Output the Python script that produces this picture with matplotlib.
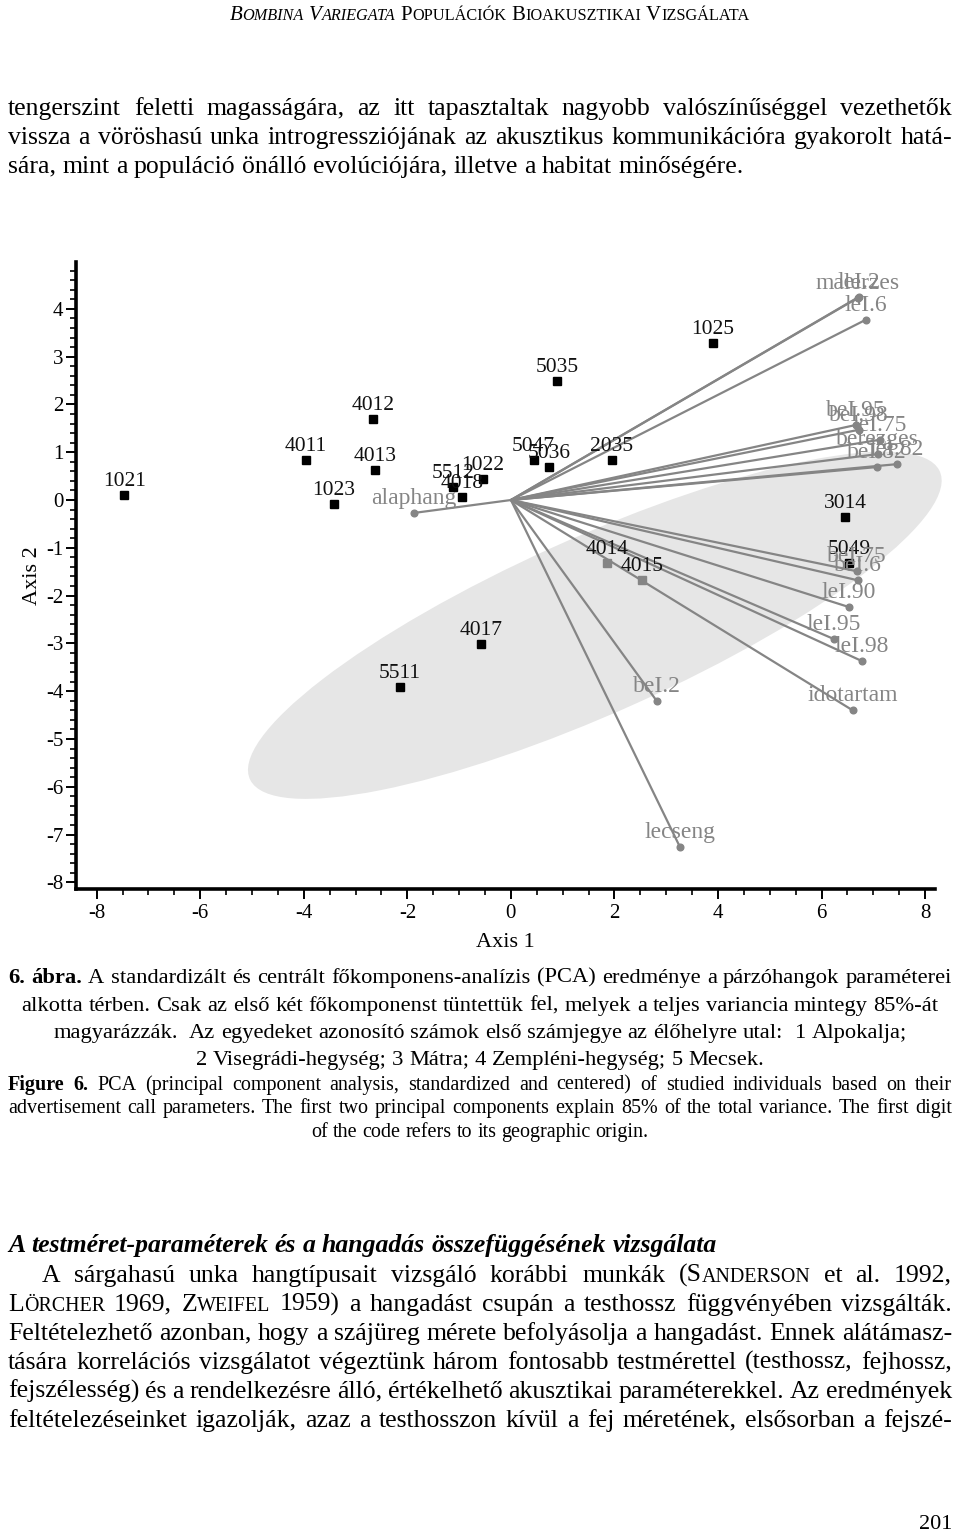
"""PCA biplot page (Bombina variegata bioacoustics) -- redraw of a scanned page."""

import matplotlib

matplotlib.use("Agg")
import matplotlib.pyplot as plt
from matplotlib.patches import Ellipse
from matplotlib.ticker import MultipleLocator
from matplotlib.transforms import Affine2D

plt.rcParams["axes.unicode_minus"] = False

W, H = 960, 1539
SERIF = "Liberation Serif"
GREY = "#858585"

# individuals (PCA scores)
ind_labels = ["1021", "4011", "4012", "4013", "1023", "5512", "1022", "4018",
              "5047", "5036", "2035", "5035", "1025", "3014", "5049", "4014",
              "4015", "4017", "5511"]
ind_x = [-7.47, -3.96, -2.66, -2.63, -3.42, -1.12, -0.54, -0.95,
         0.44, 0.73, 1.95, 0.89, 3.90, 6.45, 6.53, 1.85,
         2.53, -0.58, -2.14]
ind_y = [0.10, 0.84, 1.70, 0.63, -0.08, 0.27, 0.44, 0.06,
         0.84, 0.69, 0.84, 2.49, 3.29, -0.36, -1.32, -1.32,
         -1.68, -3.02, -3.92]
ind_grey = ["4014", "4015"]

# variables (loadings)
var_labels = ["alaphang", "malerzes", "leI.2", "leI.6", "beI.95", "beI.98",
              "leI.75", "berezges", "beI.82", "leI.82", "beI.75", "beI.6",
              "leI.90", "leI.95", "leI.98", "idotartam", "beI.2", "lecseng"]
var_x = [-1.87, 6.70, 6.72, 6.85, 6.66, 6.72,
         7.12, 7.08, 7.07, 7.45, 6.68, 6.70,
         6.53, 6.24, 6.78, 6.60, 2.82, 3.26]
var_y = [-0.27, 4.23, 4.25, 3.77, 1.57, 1.47,
         1.26, 0.96, 0.69, 0.75, -1.49, -1.68,
         -2.24, -2.91, -3.37, -4.40, -4.21, -7.25]

# confidence ellipse
ell_center = (1.62, -2.62)
ell_width = 14.8
ell_height = 3.64
ell_angle = 26

header = "_B|OMBINA _V|ARIEGATA P|OPULÁCIÓK B|IOAKUSZTIKAI V|IZSGÁLATA"
para1 = [
    "tengerszint feletti magasságára, az itt tapasztaltak nagyobb valószínűséggel vezethetők",
    "vissza a vöröshasú unka introgressziójának az akusztikus kommunikációra gyakorolt hatá-",
    "sára, mint a populáció önálló evolúciójára, illetve a habitat minőségére.",
]
caption_hu = [
    "*6. *ábra. A standardizált és centrált főkomponens-analízis (PCA) eredménye a párzóhangok paraméterei",
    "alkotta térben. Csak az első két főkomponenst tüntettük fel, melyek a teljes variancia mintegy 85%-át",
    "magyarázzák.  Az egyedeket azonosító számok első számjegye az élőhelyre utal:  1 Alpokalja;",
    "2 Visegrádi-hegység; 3 Mátra; 4 Zempléni-hegység; 5 Mecsek.",
]
caption_en = [
    "*Figure *6. PCA (principal component analysis, standardized and centered) of studied individuals based on their",
    "advertisement call parameters. The first two principal components explain 85% of the total variance. The first digit",
    "of the code refers to its geographic origin.",
]
heading = "A testméret-paraméterek és a hangadás összefüggésének vizsgálata"
para2 = [
    "A sárgahasú unka hangtípusait vizsgáló korábbi munkák (S|ANDERSON et al. 1992,",
    "L|ÖRCHER 1969, Z|WEIFEL 1959) a hangadást csupán a testhossz függvényében vizsgálták.",
    "Feltételezhető azonban, hogy a szájüreg mérete befolyásolja a hangadást. Ennek alátámasz-",
    "tására korrelációs vizsgálatot végeztünk három fontosabb testmérettel (testhossz, fejhossz,",
    "fejszélesség) és a rendelkezésre álló, értékelhető akusztikai paraméterekkel. Az eredmények",
    "feltételezéseinket igazolják, azaz a testhosszon kívül a fej méretének, elsősorban a fejszé-",
]

fig = plt.figure(figsize=(W / 100, H / 100), dpi=100)
PX = Affine2D().scale(1, -1).translate(0, H)  # page pixels, origin top-left


def em(size):
    return size * 100 / 72


def build_word(word, size, style, weight):
    st, wt = style, weight
    while word[:1] in ("*", "_"):
        if word[0] == "*":
            wt = "bold"
        else:
            st = "italic"
        word = word[1:]
    arts = []
    for i, part in enumerate(word.split("|")):
        if not part:
            continue
        sz = size if i == 0 else size * 0.78
        arts.append(fig.text(0, 0, part, fontsize=sz, family=SERIF, fontstyle=st,
                             fontweight=wt, va="baseline", transform=PX))
    return arts


def text_line(line, y, x0=8, x1=952, size=18, align="justify",
              style="normal", weight="normal"):
    r = fig.canvas.get_renderer()
    tokens = line.split(" ")
    extra = tokens.count("")  # double spaces widen the gap
    tokens = [t for t in tokens if t]
    while True:
        words = [build_word(w, size, style, weight) for w in tokens]
        widths = [[a.get_window_extent(r).width for a in wd] for wd in words]
        total = sum(sum(w) for w in widths)
        space = 0.25 * em(size)
        if align != "justify" or total + 0.6 * space * (len(words) - 1) <= x1 - x0:
            break
        for wd in words:
            for a in wd:
                a.remove()
        size -= 0.25
    if align == "justify":
        gap = (x1 - x0 - total) / (len(words) - 1)
        x = x0
    else:
        gap = space
        full = total + gap * (len(words) - 1 + extra)
        x = {"left": x0, "center": (x0 + x1 - full) / 2, "right": x1 - full}[align]
    base = y + 0.335 * em(size)
    for k, (wd, ws) in enumerate(zip(words, widths)):
        for a, w in zip(wd, ws):
            a.set_position((x, base))
            x += w
        x += gap
        if align != "justify" and k + 1 < len(tokens) and line.find(tokens[k] + "  ") >= 0:
            x += gap


# ---- page text ----
text_line(header, 13, 228, 751, size=15, align="center")
for i, line in enumerate(para1):
    text_line(line, 106 + 29 * i, size=18.5,
              align="justify" if i < len(para1) - 1 else "left")

cap_y = [975, 1003, 1030, 1057]
for i, line in enumerate(caption_hu):
    text_line(line, cap_y[i], size=16.2, align="justify" if i == 0 else "center")
en_y = [1083, 1106, 1130]
for i, line in enumerate(caption_en):
    text_line(line, en_y[i], size=14.5, align="justify" if i < 2 else "center")

text_line(heading, 1243, size=18.5, align="left", style="italic", weight="bold")
for i, line in enumerate(para2):
    text_line(line, 1273 + 29 * i, x0=42 if i == 0 else 8, size=18.5)
text_line("201", 1522, size=16, align="right")

# ---- biplot ----
ax = fig.add_axes([76 / W, 1 - 888.6 / H, (935 - 76) / W, (888.6 - 262) / H])
ax.set_xlim(-8.40, 8.19)
ax.set_ylim(-8.13, 4.98)

ax.add_patch(Ellipse(ell_center, ell_width, ell_height, angle=ell_angle,
                     facecolor="#e6e6e6", edgecolor="none", zorder=0, clip_on=False))

for name, x, y in zip(var_labels, var_x, var_y):
    ax.plot([0, x], [0, y], color=GREY, lw=1.6, zorder=1, solid_capstyle="butt")
    ax.plot(x, y, "o", color=GREY, ms=4.8, zorder=2)
for name, x, y in zip(var_labels, var_x, var_y):
    ax.annotate(name, (x, y), xytext=(0, 6.5), textcoords="offset points",
                ha="center", va="baseline", fontsize=17, color=GREY,
                family=SERIF, zorder=5)

for name, x, y in zip(ind_labels, ind_x, ind_y):
    c = GREY if name in ind_grey else "black"
    ax.plot(x, y, "s", color=c, ms=5.8, zorder=3)
    ax.annotate(name, (x, y), xytext=(0, 6.5), textcoords="offset points",
                ha="center", va="baseline", fontsize=15.5, color="#111111",
                family=SERIF, zorder=4)

for side in ("top", "right"):
    ax.spines[side].set_visible(False)
for side in ("left", "bottom"):
    ax.spines[side].set_linewidth(2.6)

ax.set_xticks(range(-8, 9, 2))
ax.set_yticks(range(-8, 5))
ax.xaxis.set_minor_locator(MultipleLocator(0.5))
ax.yaxis.set_minor_locator(MultipleLocator(0.2))
ax.tick_params(which="major", length=7, width=1.4, labelsize=15,
               labelfontfamily=SERIF, pad=2)
ax.tick_params(which="minor", length=4.5, width=1.2)
ax.tick_params(axis="x", which="major", pad=4)
ax.set_xlabel("Axis 1", fontsize=16, family=SERIF, labelpad=7)
ax.set_ylabel("Axis 2", fontsize=16, family=SERIF, labelpad=3)
ax.patch.set_visible(False)

fig.savefig("out.png", dpi=100)
